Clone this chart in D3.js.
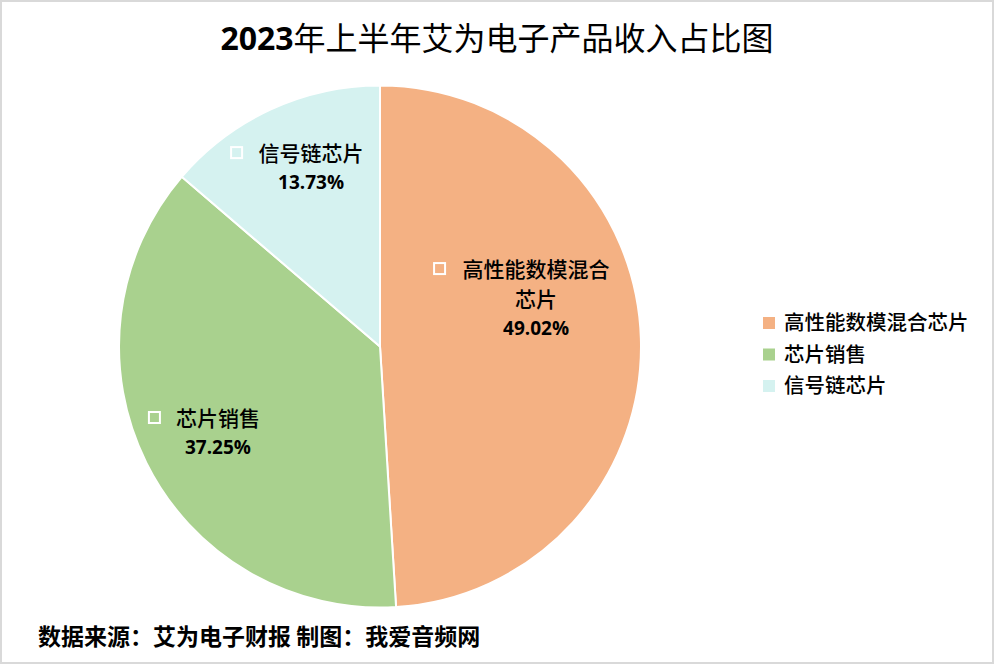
<!DOCTYPE html>
<html>
<head>
<meta charset="utf-8">
<script src="https://cdn.jsdelivr.net/npm/d3@7/dist/d3.min.js"></script>
<style>
  body { margin: 0; background: #fff; }
  svg { display: block; }
</style>
</head>
<body>
<svg width="994" height="664"></svg>
<script>
// data
const categories = ["高性能数模混合芯片", "芯片销售", "信号链芯片"]
const shares = [49.02, 37.25, 13.73]
const colors = ["#F4B183", "#A9D18E", "#D5F2F0"]
// data label lines (the first slice label wraps onto two lines)
const labelLines = [["高性能数模混合", "芯片"], ["芯片销售"], ["信号链芯片"]]
// label anchor (center of first line) relative to pie center, as fraction of radius
const labelSpots = [[0.598, -0.289], [-0.621, 0.274], [-0.264, -0.741]]

const W = 994, H = 664
const cx = 380, cy = 346.5, radius = 261
const cjk = "'Noto Sans CJK SC', sans-serif"
const latin = "'Open Sans', 'Noto Sans', sans-serif"

const svg = d3.select("svg")

// outer frame
svg.append("rect")
  .attr("x", 1).attr("y", 1)
  .attr("width", W - 2).attr("height", H - 2)
  .style("fill", "#fff")
  .style("stroke", "#d9d9d9")
  .style("stroke-width", 2)

// title
const title = svg.append("text")
  .attr("x", 497).attr("y", 38)
  .attr("dy", "0.36em")
  .attr("text-anchor", "middle")
  .style("font-size", "32px")
  .style("fill", "#000")
title.append("tspan").text("2023")
  .style("font-family", latin).style("font-weight", "bold")
title.append("tspan").text("年上半年艾为电子产品收入占比图")
  .style("font-family", cjk).style("font-weight", 400)

// pie
const pie = d3.pie().sort(null).value(d => d)
const arc = d3.arc().innerRadius(0).outerRadius(radius)
const arcs = pie(shares)

const g = svg.append("g").attr("transform", "translate(" + cx + "," + cy + ")")

g.selectAll("path.slice")
  .data(arcs)
  .enter().append("path")
  .attr("class", "slice")
  .attr("d", arc)
  .style("fill", (d, i) => colors[i])
  .style("stroke", "#fff")
  .style("stroke-width", 2)

// data labels
const labels = g.selectAll("g.label")
  .data(arcs)
  .enter().append("g")
  .attr("class", "label")
  .attr("transform", (d, i) => "translate(" + labelSpots[i][0] * radius + "," + labelSpots[i][1] * radius + ")")

labels.each(function(d, i) {
  const lg = d3.select(this)
  const lines = labelLines[i]
  const fs = 21, lineH = 30.5
  const y0 = lines.length > 1 ? -2 : 0
  lines.forEach((ln, k) => {
    lg.append("text")
      .attr("x", 0).attr("y", y0 + k * lineH)
      .attr("dy", "0.36em")
      .attr("text-anchor", "middle")
      .style("font-family", cjk)
      .style("font-size", fs + "px")
      .style("font-weight", 500)
      .style("fill", "#000")
      .text(ln)
  })
  // marker square before the first line
  const firstW = lines[0].length * 22
  lg.append("rect")
    .attr("x", -firstW / 2 - 25).attr("y", y0 - 6)
    .attr("width", 11).attr("height", 11)
    .style("fill", "none")
    .style("stroke", "#fff")
    .style("stroke-width", 2)
  lg.append("text")
    .attr("x", 0).attr("y", y0 + (lines.length - 1) * lineH + 29)
    .attr("dy", "0.36em")
    .attr("text-anchor", "middle")
    .style("font-family", latin)
    .style("font-size", "19px")
    .style("font-weight", "bold")
    .style("fill", "#000")
    .text(d3.format(".2f")(shares[i]) + "%")
})

// legend
const legend = svg.append("g").attr("transform", "translate(763,323)")
const item = legend.selectAll("g")
  .data(categories)
  .enter().append("g")
  .attr("transform", (d, i) => "translate(0," + i * 31.5 + ")")
item.append("rect")
  .attr("x", 0).attr("y", -6)
  .attr("width", 12).attr("height", 12)
  .style("fill", (d, i) => colors[i])
item.append("text")
  .attr("x", 21).attr("y", 0)
  .attr("dy", "0.36em")
  .style("font-family", cjk)
  .style("font-size", "20.5px")
  .style("font-weight", 500)
  .style("fill", "#000")
  .text(d => d)

// source note
svg.append("text")
  .attr("x", 38).attr("y", 637)
  .attr("dy", "0.36em")
  .style("font-family", cjk)
  .style("font-size", "23px")
  .style("font-weight", "bold")
  .style("fill", "#000")
  .text("数据来源：艾为电子财报 制图：我爱音频网")
</script>
</body>
</html>
